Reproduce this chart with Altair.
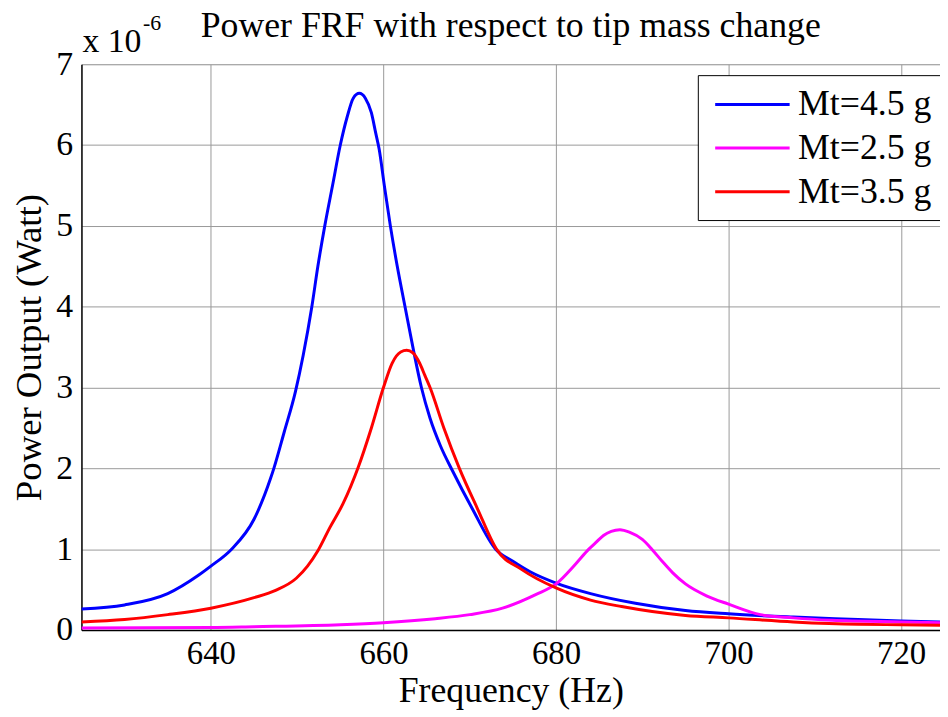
import altair as alt
import pandas as pd

# Mt = 4.5 g (blue)
f_45 = [625, 630, 635, 638.6, 640, 642.4, 645, 646.9, 647.3, 648.5, 649.8, 650.7, 651.7, 652.4,
        653.2, 654.1, 655.0, 655.8, 656.5, 657.2, 657.9, 658.6, 659.1, 659.5, 660.1, 660.8, 661.6,
        662.5, 663.5, 664.4, 665.4, 666.6, 668.0, 670.3, 673.0, 675, 677, 680, 684, 689.2, 695,
        700, 707.5, 715, 720, 724.5]
p_45 = [0.26, 0.31, 0.45, 0.68, 0.79, 1.0, 1.37, 1.87, 2.0, 2.45, 2.95, 3.4, 4.0, 4.5,
        5.0, 5.5, 6.0, 6.35, 6.58, 6.64, 6.58, 6.4, 6.15, 5.95, 5.5, 5.0, 4.5,
        4.0, 3.45, 3.0, 2.62, 2.28, 1.97, 1.5, 1.0, 0.85, 0.72, 0.58, 0.45, 0.33, 0.24,
        0.20, 0.16, 0.13, 0.11, 0.10]

# Mt = 2.5 g (magenta)
f_25 = [625, 640, 645, 655, 660, 666, 670, 673.8, 677.7, 680, 682.3, 683.8, 684.6, 685.5,
        686.4, 687.4, 688.5, 690, 691.1, 692.3, 693.5, 695, 697.5, 700, 703.7, 707.5, 712,
        720, 724.5]
p_25 = [0.025, 0.03, 0.04, 0.065, 0.09, 0.14, 0.19, 0.27, 0.44, 0.57, 0.82, 1.0, 1.08, 1.17,
        1.22, 1.24, 1.21, 1.12, 1.0, 0.85, 0.71, 0.57, 0.42, 0.32, 0.19, 0.15, 0.12,
        0.10, 0.09]

# Mt = 3.5 g (red)
f_35 = [625, 630, 635, 640, 645, 647.5, 649.9, 651.2, 652.4, 653.8, 655.3, 657.1, 658.6, 660.0,
        661.0, 662.0, 662.7, 663.4, 664.2, 664.8, 665.4, 667.0, 668.8, 670.9, 673.1, 676,
        680, 684, 687.6, 695, 700, 707.5, 715, 720, 724.5]
p_35 = [0.10, 0.13, 0.19, 0.27, 0.40, 0.49, 0.64, 0.79, 0.98, 1.27, 1.56, 2.02, 2.5, 3.0,
        3.3, 3.44, 3.46, 3.43, 3.3, 3.15, 3.0, 2.5, 2.0, 1.5, 1.0, 0.75,
        0.52, 0.37, 0.29, 0.18, 0.15, 0.10, 0.07, 0.065, 0.06]

series_names = ["Mt=4.5 g", "Mt=2.5 g", "Mt=3.5 g"]
series_colors = ["#0000FF", "#FF00FF", "#FF0000"]
x_ticks = [640, 660, 680, 700, 720]
y_ticks = [0, 1, 2, 3, 4, 5, 6, 7]
title_text = "Power FRF with respect to tip mass change"

rows = []
for name, fs, ps in zip(series_names, [f_45, f_25, f_35], [p_45, p_25, p_35]):
    for i, (f, p) in enumerate(zip(fs, ps)):
        rows.append({"series": name, "freq": f, "power": p, "order": i})
df = pd.DataFrame(rows)

FONT = "Liberation Serif"
W, H = 865, 570

lines = alt.Chart(df).mark_line(strokeWidth=3, clip=True, interpolate="monotone").encode(
    x=alt.X("freq:Q", scale=alt.Scale(domain=[625, 724.5], nice=False, zero=False),
            axis=alt.Axis(values=x_ticks, title="Frequency (Hz)", grid=True, ticks=False,
                          labelFontSize=33, titleFontSize=36, labelPadding=8, titlePadding=3,
                          titleFontWeight="normal", labelFont=FONT, titleFont=FONT,
                          gridColor="#999999", gridWidth=1, domainColor="black", domainWidth=1.5,
                          labelColor="black", titleColor="black")),
    y=alt.Y("power:Q", scale=alt.Scale(domain=[0, 7], nice=False),
            axis=alt.Axis(values=y_ticks, title="Power Output (Watt)", grid=True, ticks=False,
                          labelFontSize=34, titleFontSize=37, labelPadding=9, titlePadding=7,
                          titleFontWeight="normal", labelFont=FONT, titleFont=FONT,
                          gridColor="#999999", gridWidth=1, domainColor="black", domainWidth=1.5,
                          labelColor="black", titleColor="black")),
    color=alt.Color("series:N", scale=alt.Scale(domain=series_names, range=series_colors),
                    legend=alt.Legend(title=None, orient="none", legendX=621, legendY=11,
                                      symbolType="M-0.667,0H3.5", symbolStrokeWidth=3,
                                      symbolSize=1296, labelFontSize=36, labelFont=FONT,
                                      labelColor="black", fillColor="white", strokeColor="black",
                                      padding=10, rowPadding=6, labelOffset=52, labelLimit=300)),
    order="order:Q",
)

title_mark = alt.Chart(pd.DataFrame({"t": [title_text]})).mark_text(
    font=FONT, fontSize=36, align="center", baseline="alphabetic", color="black"
).encode(text="t:N", x=alt.value(W / 2), y=alt.value(-27))
exp_base = alt.Chart(pd.DataFrame({"t": ["x 10"]})).mark_text(
    font=FONT, fontSize=34, align="left", baseline="alphabetic", color="black"
).encode(text="t:N", x=alt.value(1), y=alt.value(-12))
exp_sup = alt.Chart(pd.DataFrame({"t": ["-6"]})).mark_text(
    font=FONT, fontSize=22, align="left", baseline="alphabetic", color="black"
).encode(text="t:N", x=alt.value(62), y=alt.value(-34))

chart = alt.layer(lines, title_mark, exp_base, exp_sup).properties(
    width=W, height=H,
    autosize=alt.AutoSizeParams(type="none"),
    padding={"left": 74, "top": 54, "right": 0, "bottom": 84},
).configure_view(stroke="black", strokeWidth=1.5).configure(background="white")

chart.save("out.html", embed_options={"renderer": "svg", "actions": False})
